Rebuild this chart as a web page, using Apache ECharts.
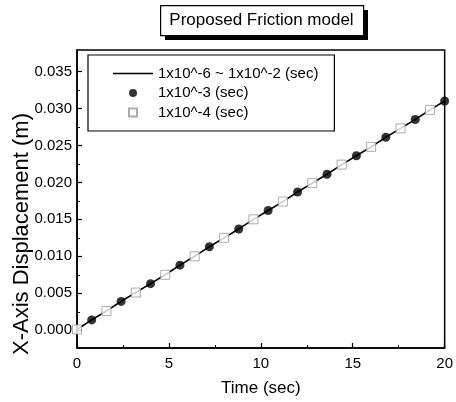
<!DOCTYPE html>
<html>
<head>
<meta charset="utf-8">
<script src="https://cdn.jsdelivr.net/npm/echarts@6/dist/echarts.min.js"></script>
<style>
  html, body { margin: 0; padding: 0; background: #fff; }
  #chart { width: 456px; height: 402px; }
</style>
</head>
<body>
<div id="chart"></div>
<script>
// Reference solution, time step 1e-6 ~ 1e-2 s (continuous line)
var lineTime = [0, 0.8, 1.6, 2.4, 3.2, 4.0, 4.8, 5.6, 6.4, 7.2, 8.0, 8.8, 9.6,
                10.4, 11.2, 12.0, 12.8, 13.6, 14.4, 15.2, 16.0, 16.8, 17.6, 18.4, 19.2, 20.0];
var lineDisp = [0.0001, 0.0014, 0.0026, 0.0039, 0.0051, 0.0063, 0.0075, 0.0088, 0.0100,
                0.0113, 0.0125, 0.0137, 0.0150, 0.0162, 0.0174, 0.0187, 0.0199, 0.0211,
                0.0224, 0.0236, 0.0248, 0.0261, 0.0273, 0.0285, 0.0298, 0.0310];

// Time step 1e-3 s (filled circles)
var circleTime = [0.8, 2.4, 4.0, 5.6, 7.2, 8.8, 10.4, 12.0, 13.6, 15.2, 16.8, 18.4, 20.0];
var circleDisp = [0.0014, 0.0039, 0.0063, 0.0088, 0.0113, 0.0137, 0.0162, 0.0187,
                  0.0211, 0.0236, 0.0261, 0.0285, 0.0310];

// Time step 1e-4 s (open squares)
var squareTime = [0, 1.6, 3.2, 4.8, 6.4, 8.0, 9.6, 11.2, 12.8, 14.4, 16.0, 17.6, 19.2];
var squareDisp = [0.0001, 0.0026, 0.0051, 0.0075, 0.0100, 0.0125, 0.0150, 0.0174,
                  0.0199, 0.0224, 0.0248, 0.0273, 0.0298];

var seriesNames = ['1x10^-6 ~ 1x10^-2 (sec)', '1x10^-3 (sec)', '1x10^-4 (sec)'];
var yMajorTicks = [0, 0.005, 0.010, 0.015, 0.020, 0.025, 0.030, 0.035];
var yMinorTicks = [0.0025, 0.0075, 0.0125, 0.0175, 0.0225, 0.0275, 0.0325];

var FONT = '"Liberation Sans", Arial, Helvetica, sans-serif';

function pairs(xs, ys) {
  return xs.map(function (x, i) { return [x, ys[i]]; });
}

var chart = echarts.init(document.getElementById('chart'), null, { renderer: 'canvas' });

var Y_MIN = -0.0024, Y_MAX = 0.0379;

chart.setOption({
  animation: false,
  backgroundColor: '#fff',
  textStyle: { fontFamily: FONT, color: '#000' },
  grid: {
    left: 77, right: 11, top: 50, bottom: 50,
    show: true, borderColor: '#000', borderWidth: 1.5, backgroundColor: 'transparent'
  },
  graphic: [
    // boxed heading with a drop shadow
    { type: 'rect', left: 165, top: 10, shape: { width: 203, height: 30 },
      style: { fill: '#000' }, silent: true, z: 10 },
    { type: 'rect', left: 160, top: 5, shape: { width: 203, height: 30 },
      style: { fill: '#fff', stroke: '#000', lineWidth: 1.2 }, silent: true, z: 11 },
    { type: 'text', x: 261.5, y: 20, z: 12, silent: true,
      style: { text: 'Proposed Friction model', fontSize: 17, fontFamily: FONT,
               fill: '#000', align: 'center', verticalAlign: 'middle' } },
    // vertical axis title
    { type: 'text', x: 22, y: 234, rotation: Math.PI / 2, z: 12, silent: true,
      style: { text: 'X-Axis Displacement (m)', fontSize: 22, fontFamily: FONT,
               fill: '#000', align: 'center', verticalAlign: 'middle' } }
  ],
  legend: {
    orient: 'vertical',
    left: 88, top: 55,
    padding: [11, 16, 11, 25],
    borderColor: '#000', borderWidth: 1.2,
    backgroundColor: '#fff',
    itemWidth: 40, itemHeight: 8, itemGap: 4.5,
    textStyle: { fontSize: 15, fontFamily: FONT, color: '#000' },
    data: [
      { name: seriesNames[0], icon: 'path://M0,0H40V1.6H0Z' },
      { name: seriesNames[1], icon: 'circle' },
      { name: seriesNames[2], icon: 'path://M0,0H8V8H0Z' }
    ]
  },
  xAxis: {
    type: 'value', min: 0, max: 20, interval: 5,
    name: 'Time (sec)', nameLocation: 'middle', nameGap: 32,
    nameTextStyle: { fontSize: 17, fontFamily: FONT, color: '#000' },
    axisLine: { show: true, onZero: false, lineStyle: { color: '#000', width: 1.5 } },
    axisTick: { show: true, inside: true, length: 5, lineStyle: { color: '#000', width: 1.2 } },
    minorTick: { show: true, splitNumber: 2, length: 3, lineStyle: { color: '#000', width: 1 } },
    axisLabel: { fontSize: 15, fontFamily: FONT, color: '#000', margin: 8 },
    splitLine: { show: false }
  },
  yAxis: [{
    type: 'value', min: Y_MIN, max: Y_MAX,
    axisLine: { show: true, onZero: false, lineStyle: { color: '#000', width: 1.5 } },
    axisTick: { show: true, inside: true, length: 5, customValues: yMajorTicks,
                lineStyle: { color: '#000', width: 1.2 } },
    axisLabel: { fontSize: 15, fontFamily: FONT, color: '#000', margin: 5,
                 customValues: yMajorTicks,
                 formatter: function (v) { return v.toFixed(3); } },
    splitLine: { show: false }
  }, {
    type: 'value', min: Y_MIN, max: Y_MAX, position: 'left', offset: 0,
    axisLine: { show: false },
    axisTick: { show: true, inside: true, length: 3, customValues: yMinorTicks,
                lineStyle: { color: '#000', width: 1 } },
    axisLabel: { show: false },
    splitLine: { show: false }
  }],
  series: [{
    name: seriesNames[0], type: 'line', symbol: 'none', z: 2,
    lineStyle: { color: '#000', width: 1.6 },
    itemStyle: { color: '#000' },
    data: pairs(lineTime, lineDisp)
  }, {
    name: seriesNames[1], type: 'scatter', symbol: 'circle', symbolSize: 9, z: 3,
    itemStyle: { color: '#000' },
    data: pairs(circleTime, circleDisp)
  }, {
    name: seriesNames[2], type: 'scatter', symbol: 'rect', symbolSize: 9, z: 4,
    itemStyle: { color: '#fff', borderColor: '#999', borderWidth: 1 },
    data: pairs(squareTime, squareDisp)
  }]
});
</script>
</body>
</html>
